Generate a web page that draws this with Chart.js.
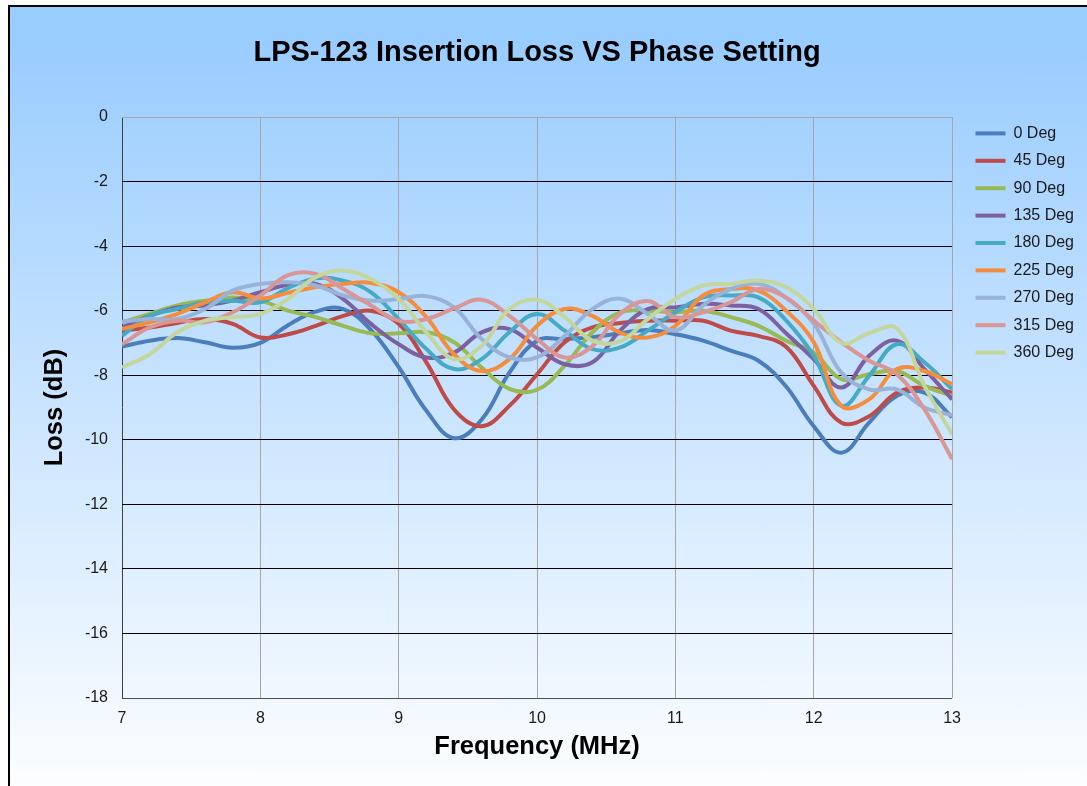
<!DOCTYPE html>
<html lang="en">
<head>
<meta charset="UTF-8">
<title>LPS-123 Insertion Loss VS Phase Setting</title>
<script src="https://cdn.jsdelivr.net/npm/chart.js"></script>
<style>
    html, body {
        margin: 0;
        padding: 0;
        background: #fff;
        overflow: hidden;
    }
    #frame {
        position: absolute;
        left: 8px;
        top: 5px;
        width: 1100px;
        height: 800px;
        border-top: 2px solid #000;
        border-left: 2px solid #000;
        background: linear-gradient(to bottom, #99ccff 0%, #99ccff 4%, #ffffff 100%);
    }
    #wrap {
        position: absolute;
        left: 0;
        top: 0;
        width: 1087px;
        height: 786px;
    }
</style>
</head>
<body>
<div id="frame"></div>
<div id="wrap"><canvas id="lossChart"></canvas></div>

<script>
// frequency points (MHz)
const freq = [7.0, 7.2, 7.4, 7.6, 7.8, 8.0, 8.2, 8.4, 8.6, 8.8, 9.0, 9.2, 9.4, 9.6, 9.8, 10.0,
              10.2, 10.4, 10.6, 10.8, 11.0, 11.2, 11.4, 11.6, 11.8, 12.0, 12.2, 12.4, 12.6, 12.8, 13.0];

// insertion loss (dB) per phase setting
const deg0   = [-7.11, -6.93, -6.85, -6.98, -7.15, -7.0, -6.45, -6.03, -5.95, -6.6, -7.75, -9.1, -9.95, -9.37, -7.92, -6.93,
                -6.88, -6.82, -6.7, -6.6, -6.73, -6.93, -7.24, -7.55, -8.35, -9.58, -10.4, -9.47, -8.64, -8.54, -9.3];
const deg45  = [-6.62, -6.52, -6.38, -6.26, -6.41, -6.83, -6.73, -6.47, -6.16, -6.0, -6.41, -7.6, -9.06, -9.58, -8.95, -7.97,
                -6.98, -6.52, -6.38, -6.31, -6.31, -6.31, -6.62, -6.78, -7.12, -8.33, -9.47, -9.27, -8.54, -8.38, -8.54];
const deg90  = [-6.36, -6.1, -5.84, -5.69, -5.59, -5.69, -6.0, -6.2, -6.47, -6.7, -6.7, -6.67, -6.98, -7.76, -8.42, -8.45,
                -7.7, -6.67, -6.05, -6.0, -6.05, -6.0, -6.2, -6.47, -6.93, -7.3, -8.12, -7.97, -7.87, -8.33, -8.64];
const deg135 = [-6.52, -6.16, -5.9, -5.84, -5.69, -5.43, -5.2, -5.17, -5.64, -6.41, -7.04, -7.45, -7.3, -6.67, -6.57, -7.14,
                -7.66, -7.6, -6.62, -5.95, -5.9, -5.79, -5.84, -5.95, -6.7, -7.5, -8.38, -7.4, -6.93, -7.81, -8.75];
const deg180 = [-6.78, -6.16, -5.95, -5.74, -5.69, -5.74, -5.3, -5.0, -5.07, -5.43, -6.26, -7.19, -7.81, -7.5, -6.67, -6.1,
                -6.62, -7.19, -7.14, -6.62, -6.05, -5.59, -5.53, -5.59, -6.3, -7.4, -8.95, -8.02, -7.04, -7.6, -8.43];
const deg225 = [-6.57, -6.36, -6.1, -5.74, -5.43, -5.62, -5.45, -5.27, -5.17, -5.14, -5.43, -6.2, -7.35, -7.87, -7.5, -6.47,
                -5.95, -6.16, -6.68, -6.83, -6.47, -5.53, -5.33, -5.38, -6.0, -6.98, -8.95, -8.75, -7.81, -7.87, -8.28];
const deg270 = [-6.34, -6.26, -6.26, -5.95, -5.38, -5.17, -5.12, -5.22, -5.53, -5.69, -5.64, -5.55, -5.9, -6.88, -7.45, -7.45,
                -6.78, -5.95, -5.63, -6.1, -6.62, -5.84, -5.33, -5.17, -5.6, -6.4, -7.92, -8.44, -8.44, -9.0, -9.24];
const deg315 = [-7.04, -6.52, -6.31, -6.36, -6.05, -5.53, -4.9, -4.86, -5.33, -5.84, -6.31, -6.26, -5.93, -5.66, -6.16, -6.88,
                -7.45, -7.1, -6.1, -5.7, -6.2, -6.05, -5.74, -5.33, -5.59, -6.31, -6.98, -7.55, -7.97, -9.06, -10.6];
const deg360 = [-7.76, -7.35, -6.67, -6.31, -6.2, -6.1, -5.64, -4.96, -4.76, -5.02, -5.64, -6.67, -7.5, -7.09, -5.95, -5.66,
                -6.2, -6.93, -6.95, -6.26, -5.64, -5.22, -5.17, -5.07, -5.27, -5.95, -7.0, -6.7, -6.55, -8.33, -9.83];

const seriesNames = ['0 Deg', '45 Deg', '90 Deg', '135 Deg', '180 Deg', '225 Deg', '270 Deg', '315 Deg', '360 Deg'];
const seriesData = [deg0, deg45, deg90, deg135, deg180, deg225, deg270, deg315, deg360];
const seriesColors = ['#4a7ebb', '#be4b48', '#98b954', '#7d60a0', '#46aac5', '#f58d3d', '#99b2d8', '#d99694', '#c3d69b'];

const fontFamily = '"Liberation Sans", Arial, sans-serif';
Chart.defaults.font.family = fontFamily;
Chart.defaults.color = '#1a1a1a';

// nudge the legend a bit right of the plot, like the original
const legendShift = {
    id: 'legendShift',
    afterLayout(chart) {
        const lg = chart.legend;
        const dx = chart.chartArea.right + 12 - lg.left;
        lg.left += dx;
        lg.right += dx;
        lg.top -= 3;
        lg.bottom -= 3;
    }
};

const datasets = seriesNames.map((name, i) => ({
    label: name,
    data: freq.map((f, j) => ({ x: f, y: seriesData[i][j] })),
    borderColor: seriesColors[i],
    backgroundColor: seriesColors[i],
    borderWidth: 4,
    pointRadius: 0,
    tension: 0.4,
    fill: false,
    order: seriesNames.length - i   // later series drawn on top
}));

const ctx = document.getElementById('lossChart').getContext('2d');
new Chart(ctx, {
    type: 'line',
    data: { datasets: datasets },
    options: {
        responsive: true,
        maintainAspectRatio: false,
        animation: false,
        layout: { padding: { left: 36, right: 15, top: 0, bottom: 20 } },
        scales: {
            x: {
                type: 'linear',
                min: 7,
                max: 13,
                ticks: { stepSize: 1, padding: 11, font: { size: 16 } },
                grid: {
                    color: c => c.tick && c.tick.value === 7 ? '#404040' : '#a6a6a6',
                    drawTicks: false
                },
                border: { display: false },
                title: {
                    display: true,
                    text: 'Frequency (MHz)',
                    color: '#000',
                    font: { size: 25.5, weight: 'bold' }
                },
                afterFit: s => { s.height = 68; }
            },
            y: {
                min: -18,
                max: 0,
                ticks: { stepSize: 2, padding: 14, font: { size: 16 } },
                grid: {
                    color: c => {
                        if (!c.tick) return '#000';
                        if (c.tick.value === 0) return '#a6a6a6';
                        if (c.tick.value === -18) return '#505050';
                        return '#000';
                    },
                    drawTicks: false
                },
                border: { display: false },
                title: {
                    display: true,
                    text: 'Loss (dB)',
                    color: '#000',
                    font: { size: 25.5, weight: 'bold' }
                },
                afterFit: s => { s.width = 86; }
            }
        },
        plugins: {
            title: {
                display: true,
                text: 'LPS-123 Insertion Loss VS Phase Setting',
                fullSize: false,
                color: '#000',
                font: { size: 29, weight: 'bold' },
                padding: { top: 35.6, bottom: 46.6 }
            },
            legend: {
                position: 'right',
                align: 'start',
                fullSize: false,
                labels: {
                    usePointStyle: true,
                    pointStyle: 'line',
                    pointStyleWidth: 30,
                    padding: 11.4,
                    color: '#1a1a1a',
                    font: { size: 16 },
                    sort: (a, b) => a.datasetIndex - b.datasetIndex
                }
            },
            tooltip: { enabled: false }
        }
    },
    plugins: [legendShift]
});
</script>
</body>
</html>
